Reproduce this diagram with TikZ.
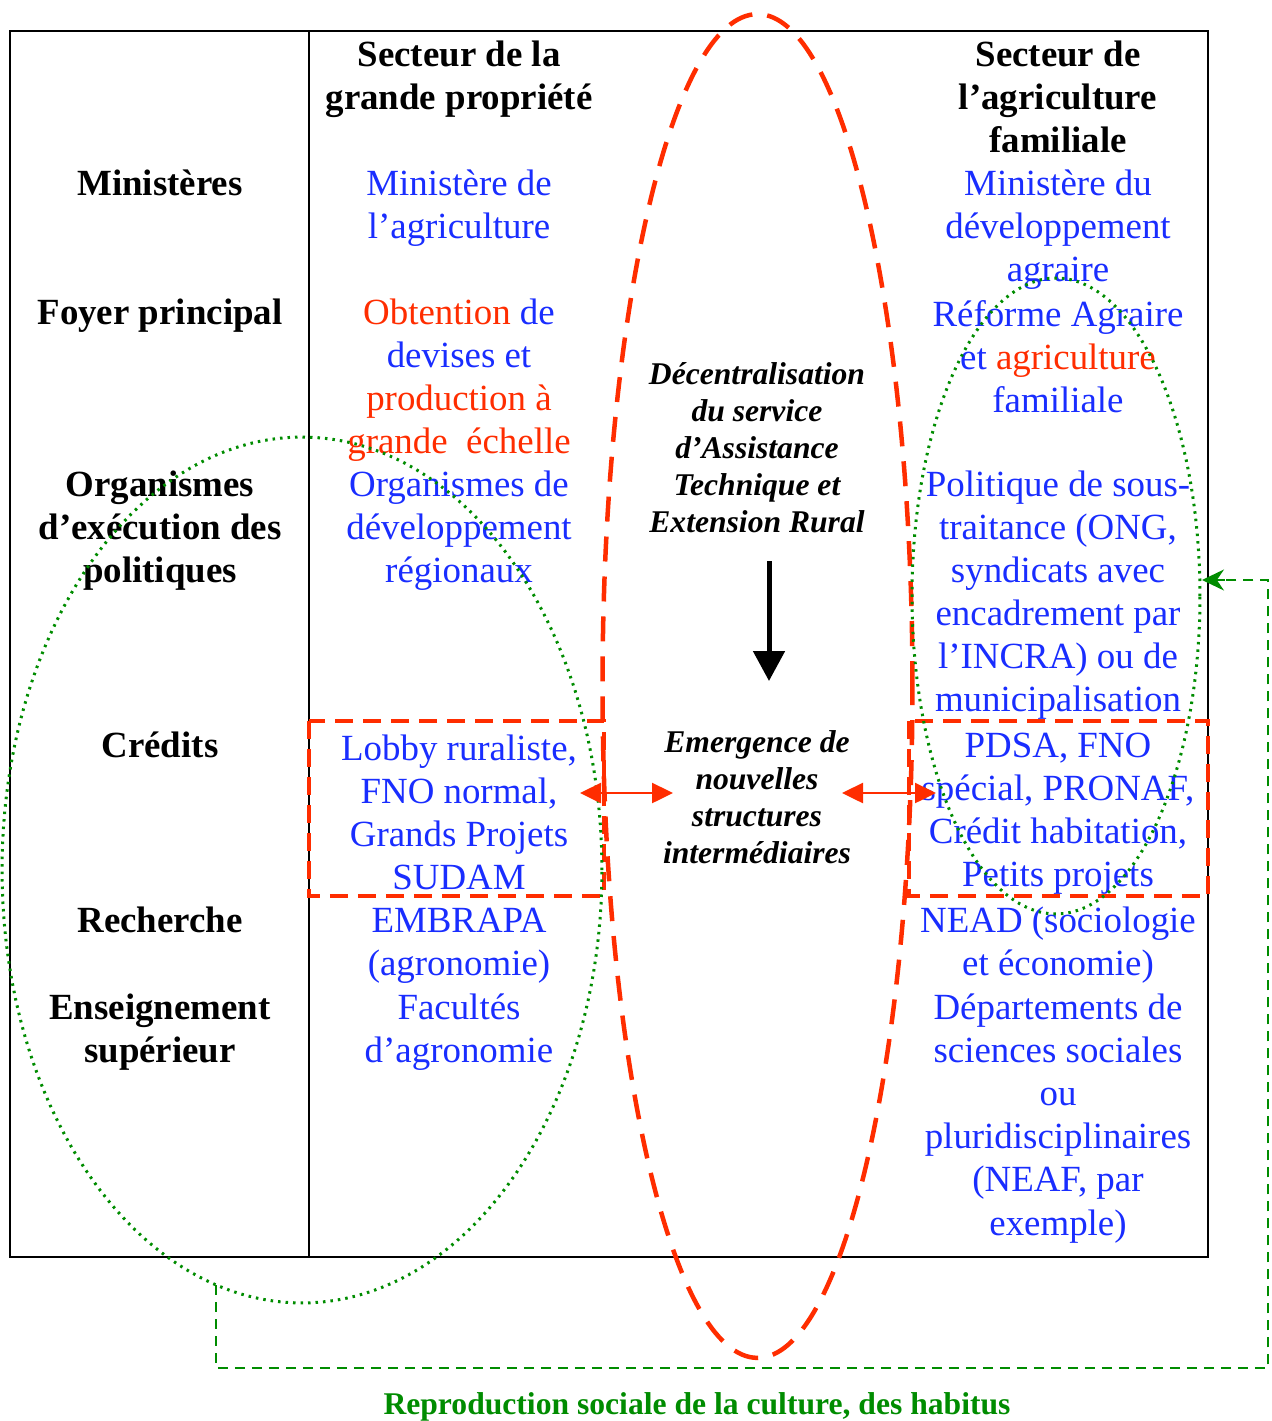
\documentclass[tikz,border=0pt]{standalone}
\usepackage{fontspec}
\setmainfont{Liberation Serif}
\usetikzlibrary{arrows.meta}
\definecolor{tblue}{RGB}{25,45,255}
\definecolor{tred}{RGB}{255,45,0}
\definecolor{tgreen}{RGB}{0,140,0}
\begin{document}
\begin{tikzpicture}[x=0.02cm,y=-0.02cm,
  every node/.style={inner sep=0pt, outer sep=0pt},
  hdr/.style={font=\fontsize{21}{24.5}\selectfont\bfseries, align=center, text=black},
  ent/.style={font=\fontsize{21}{24.5}\selectfont, align=center, text=tblue},
  mid/.style={font=\fontsize{18}{21}\selectfont\bfseries\itshape, align=center, text=black},
  redell/.style={draw=tred, line width=0.09cm, dash pattern=on 0.5cm off 0.3cm},
  redbox/.style={draw=tred, line width=0.07cm, dash pattern=on 0.36cm off 0.2cm},
  greenell/.style={draw=tgreen, line width=0.06cm, dash pattern=on 0.05cm off 0.1cm},
  greenlink/.style={draw=tgreen, line width=0.04cm, dash pattern=on 0.2cm off 0.14cm},
  redarrow/.style={draw=tred, fill=tred, line width=0.05cm, {Triangle[length=0.42cm,width=0.4cm]}-{Triangle[length=0.42cm,width=0.4cm]}},
  blackarrow/.style={draw=black, line width=0.1cm, -{Triangle[length=0.6cm,width=0.62cm]}}
]
\useasboundingbox (0,0) rectangle (1272,1421);

% table
\draw[line width=0.05cm] (10,31) rectangle (1208,1257);
\draw[line width=0.03cm] (309,31) -- (309,1257);

% headers
\node[hdr] (h1) at (459,79.5) {Secteur de la\\grande propriété};
\node[hdr] (h2) at (1058,97) {Secteur de\\l’agriculture\\familiale};

% row labels
\node[hdr] (r1) at (160,183) {Ministères};
\node[hdr] (r2) at (160,316) {Foyer principal};
\node[hdr] (r3) at (160,531) {Organismes\\d’exécution des\\politiques};
\node[hdr] (r4) at (160,745) {Crédits};
\node[hdr] (r5) at (160,920) {Recherche};
\node[hdr] (r6) at (160,1032.5) {Enseignement\\supérieur};

% large property column
\node[ent] (a1) at (459,208.5) {Ministère de\\l’agriculture};
\node[ent] (a2) at (459,380.5) {\textcolor{tred}{Obtention} de\\devises et\\\textcolor{tred}{production à}\\\textcolor{tred}{grande\ \ échelle}};
\node[ent] (a3) at (459,531) {Organismes de\\développement\\régionaux};
\node[ent] (a4) at (459,812.5) {Lobby ruraliste,\\FNO normal,\\Grands Projets\\SUDAM};
\node[ent] (a5) at (459,945.5) {EMBRAPA\\(agronomie)};
\node[ent] (a6) at (459,1032.5) {Facultés\\d’agronomie};

% family agriculture column
\node[ent] (b1) at (1058,230) {Ministère du\\développement\\agraire};
\node[ent] (b2) at (1058,357) {Réforme Agraire\\et \textcolor{tred}{agriculture}\\familiale};
\node[ent] (b3) at (1058,595.5) {Politique de sous-\\traitance (ONG,\\syndicats avec\\encadrement par\\l’INCRA) ou de\\municipalisation};
\node[ent] (b4) at (1058,813.5) {PDSA, FNO\\spécial, PRONAF,\\Crédit habitation,\\Petits projets};
\node[ent] (b5) at (1058,945.5) {NEAD (sociologie\\et économie)};
\node[ent] (b6) at (1058,1118.5) {Départements de\\sciences sociales\\ou\\pluridisciplinaires\\(NEAF, par\\exemple)};

% centre
\node[mid] (c1) at (757,447.5) {Décentralisation\\du service\\d’Assistance\\Technique et\\Extension Rural};
\node[mid] (c2) at (757,797.5) {Emergence de\\nouvelles\\structures\\intermédiaires};

% red dashed boxes
\draw[redbox] (309,721) rectangle (604,896);
\draw[redbox] (909,721) rectangle (1208,896);

% ellipses
\draw[redell] (757.5,686) ellipse [x radius=3.1cm, y radius=13.44cm];
\draw[greenell] (302,870) ellipse [x radius=6cm, y radius=8.66cm];
\draw[greenell] (1056,596) ellipse [x radius=2.88cm, y radius=6.36cm];

% arrows
\coordinate (la1) at (580,793);
\coordinate (la2) at (673,793);
\coordinate (ra1) at (842,793);
\coordinate (ra2) at (936,793);
\draw[redarrow] (la1) -- (la2);
\draw[redarrow] (ra1) -- (ra2);
\coordinate (ba1) at (769,561);
\coordinate (ba2) at (769,681);
\draw[blackarrow] (ba1) -- (ba2);

% green feedback link
\coordinate (gs) at (216,1285);
\coordinate (ge) at (1202,580);
\draw[greenlink] (gs) -- (216,1368) -- (1268,1368) -- (1268,580) -- ([xshift=0.4cm]ge);
\draw[tgreen, line width=0.04cm, -{Stealth[length=0.44cm,width=0.42cm]}] ([xshift=0.45cm]ge) -- (ge);

\node[font=\fontsize{18}{21}\selectfont\bfseries, text=tgreen] (rep) at (697,1407) {Reproduction sociale de la culture, des habitus};
\end{tikzpicture}
\end{document}
